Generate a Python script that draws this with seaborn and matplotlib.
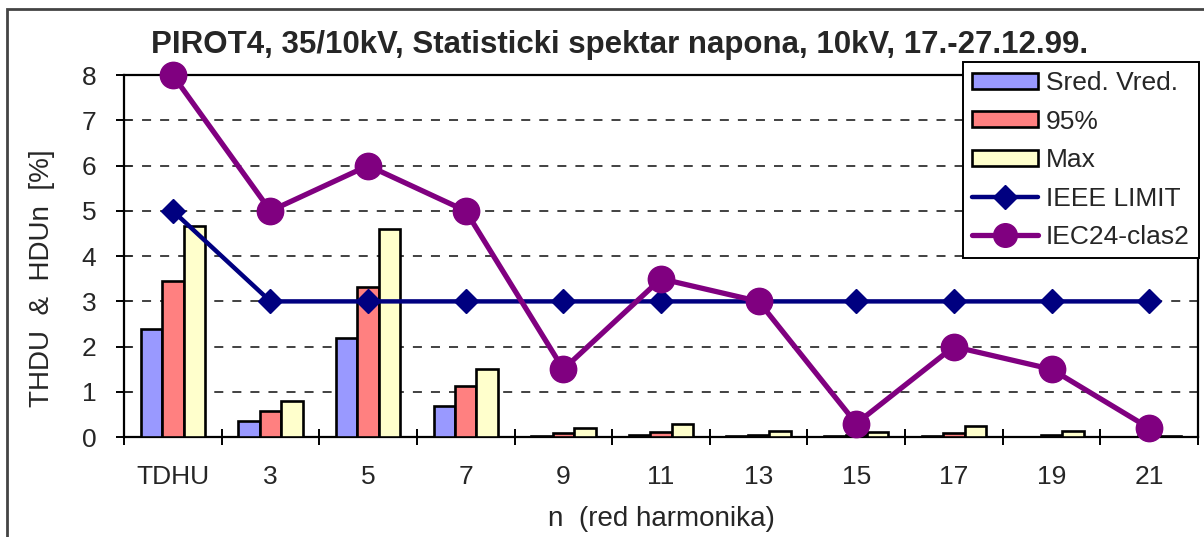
import numpy as np
import pandas as pd
import matplotlib
matplotlib.use("Agg")
import matplotlib.pyplot as plt
from matplotlib.patches import Patch, Rectangle
from matplotlib.lines import Line2D
import seaborn as sns

HARMONICS = ["TDHU", "3", "5", "7", "9", "11", "13", "15", "17", "19", "21"]
SRED_VRED = [2.40, 0.35, 2.20, 0.68, 0.03, 0.04, 0.02, 0.02, 0.03, 0.01, 0.01]
P95 = [3.44, 0.57, 3.32, 1.13, 0.10, 0.12, 0.04, 0.04, 0.10, 0.04, 0.03]
MAX = [4.66, 0.80, 4.60, 1.50, 0.20, 0.28, 0.13, 0.12, 0.25, 0.13, 0.03]
IEEE_LIMIT = [5, 3, 3, 3, 3, 3, 3, 3, 3, 3, 3]
IEC24 = [8, 5, 6, 5, 1.5, 3.5, 3, 0.3, 2, 1.5, 0.2]
SERIES = ["Sred. Vred.", "95%", "Max"]
BAR_COLORS = ["#9999FF", "#FF8080", "#FFFFCC"]

df = pd.DataFrame({
    "n": HARMONICS * 3,
    "value": SRED_VRED + P95 + MAX,
    "serie": [s for s in SERIES for _ in HARMONICS],
})

sns.set_theme(style="white")
plt.rcParams["font.family"] = ["Liberation Sans", "DejaVu Sans"]

fig = plt.figure(figsize=(12.04, 5.37), dpi=100)
ax = fig.add_axes([0.103, 0.186, 0.892, 0.674])

sns.barplot(data=df, x="n", y="value", hue="serie", order=HARMONICS,
            hue_order=SERIES, palette=BAR_COLORS, width=0.66, gap=0,
            edgecolor="black", linewidth=1.9, saturation=1, legend=False,
            ax=ax, zorder=3)

pos = np.arange(len(HARMONICS))
ax.plot(pos, IEEE_LIMIT, color="#000080", lw=3.2, marker="D", ms=12,
        zorder=4, clip_on=False)
ax.plot(pos, IEC24, color="#800080", lw=3.8, marker="o", ms=19,
        zorder=5, clip_on=False)

ax.set_ylim(0, 8)
ax.set_xlim(-0.5, len(HARMONICS) - 0.5)
ax.set_yticks(range(0, 9))
for y in range(1, 8):
    ax.axhline(y, color="#333333", lw=1.3, dashes=(5, 5), zorder=1)

for side in ["left", "right", "top", "bottom"]:
    ax.spines[side].set_visible(True)
    ax.spines[side].set_color("black")
    ax.spines[side].set_linewidth(1.6)

ax.set_xticks(pos)
ax.set_xticks(np.arange(-0.5, len(HARMONICS)), minor=True)
ax.tick_params(axis="x", which="major", length=0, pad=20, labelsize=19)
ax.tick_params(axis="x", which="minor", direction="inout", length=12,
               width=1.4, color="black", bottom=True)
ax.tick_params(axis="y", direction="inout", length=12, width=1.4,
               color="black", left=True, labelsize=19, pad=14)

ax.set_xlabel("n  (red harmonika)", fontsize=20, labelpad=12)
ax.set_ylabel("THDU  &  HDUn  [%]", fontsize=20)
ax.yaxis.set_label_coords(-0.064, 0.44)
fig.text(620 / 1204, 1 - 45 / 537,
         "PIROT4, 35/10kV, Statisticki spektar napona, 10kV, 17.-27.12.99.",
         fontsize=22.5, fontweight="bold", ha="center", va="center")

handles = [Patch(facecolor=c, edgecolor="black", linewidth=1.9) for c in BAR_COLORS]
handles += [
    Line2D([0], [0], color="#000080", lw=3.2, marker="D", ms=12),
    Line2D([0], [0], color="#800080", lw=3.8, marker="o", ms=17),
]
leg = ax.legend(handles, SERIES + ["IEEE LIMIT", "IEC24-clas2"],
                loc="upper right", bbox_to_anchor=(1.001, 1.037),
                fontsize=19, frameon=True, fancybox=False, framealpha=1,
                edgecolor="black", handlelength=2.5, handleheight=0.55,
                handletextpad=0.3, labelspacing=0.55, borderpad=0.35,
                borderaxespad=0)
leg.get_frame().set_linewidth(1.4)
leg.set_zorder(10)

fig.add_artist(Rectangle((7 / 1204, -0.2), 1.2, 1.2 - 9 / 537,
                         transform=fig.transFigure, fill=False,
                         edgecolor="#444444", lw=2))

fig.savefig("out.png", dpi=100)
